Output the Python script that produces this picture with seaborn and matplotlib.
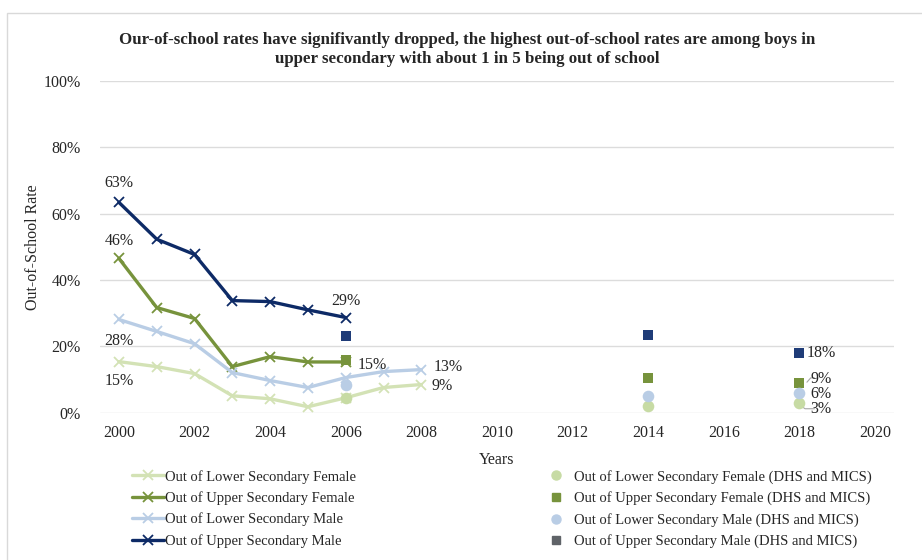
import pandas as pd
import seaborn as sns
import matplotlib.pyplot as plt
from matplotlib.lines import Line2D

# Data
years_line = [2000, 2001, 2002, 2003, 2004, 2005, 2006]
years_line_lower = [2000, 2001, 2002, 2003, 2004, 2005, 2006, 2007, 2008]
lower_female = [15.4, 13.9, 11.8, 5.1, 4.2, 1.8, 4.5, 7.6, 8.5]
upper_female = [46.5, 31.7, 28.4, 13.9, 16.9, 15.3, 15.3]
lower_male = [28.1, 24.5, 20.8, 12.1, 9.7, 7.6, 10.6, 12.4, 13.0]
upper_male = [63.4, 52.3, 47.7, 33.8, 33.5, 31.0, 28.7]

years_dhs = [2006, 2014, 2018]
dhs_lower_female = [4.5, 2.1, 3.0]
dhs_upper_female = [16.0, 10.6, 9.0]
dhs_lower_male = [8.5, 5.1, 6.0]
dhs_upper_male = [23.0, 23.3, 18.0]

line_names = ["Out of Lower Secondary Female", "Out of Upper Secondary Female",
              "Out of Lower Secondary Male", "Out of Upper Secondary Male"]
dhs_names = [n + " (DHS and MICS)" for n in line_names]
line_colors = ["#d3e2b5", "#77933c", "#b9cde5", "#0d2a66"]
dhs_colors = ["#c7dba4", "#77933c", "#b9cde5", "#1f3c78"]
dhs_legend_colors = ["#c7dba4", "#77933c", "#b9cde5", "#5f6368"]

sns.set_style("white")
plt.rcParams['font.family'] = ['Liberation Serif', 'DejaVu Serif']

fig = plt.figure(figsize=(9.22, 5.6), dpi=100)
ax = fig.add_axes([0.1085, 0.263, 0.861, 0.5924])

line_x = [years_line_lower, years_line, years_line_lower, years_line]
line_y = [lower_female, upper_female, lower_male, upper_male]
for x, y, c in zip(line_x, line_y, line_colors):
    df = pd.DataFrame({"year": x, "rate": y})
    sns.lineplot(data=df, x="year", y="rate", color=c, linewidth=2.4,
                 marker="x", markersize=7, markeredgewidth=1.3,
                 markeredgecolor=c, ax=ax, zorder=3)

dhs_y = [dhs_lower_female, dhs_upper_female, dhs_lower_male, dhs_upper_male]
dhs_markers = ["o", "s", "o", "s"]
for y, c, m in zip(dhs_y, dhs_colors, dhs_markers):
    df = pd.DataFrame({"year": years_dhs, "rate": y})
    sns.scatterplot(data=df, x="year", y="rate", color=c, marker=m,
                    s=70 if m == "o" else 50, linewidth=0, ax=ax, zorder=4)

ax.set_xlim(1999.5, 2020.5)
ax.set_ylim(0, 100)
ax.set_xticks(range(2000, 2021, 2))
ax.set_yticks(range(0, 101, 20))
ax.set_yticklabels([f"{v}%" for v in range(0, 101, 20)])
ax.tick_params(labelsize=11.5, length=0)
ax.tick_params(axis="x", pad=9)
ax.tick_params(axis="y", pad=14)
ax.grid(axis="y", color="#dcdcdc", linewidth=1)
for s in ax.spines.values():
    s.set_visible(False)
ax.set_xlabel("Years", fontsize=11.5, labelpad=8)
ax.set_ylabel("Out-of-School Rate", fontsize=11.5, labelpad=2)

fig.suptitle("Our-of-school rates have signifivantly dropped, the highest out-of-school rates are among boys in\n"
             "upper secondary with about 1 in 5 being out of school",
             fontsize=12.2, fontweight="bold", y=0.943, x=0.507, linespacing=1.25)

# data labels
lab = dict(fontsize=11.5, ha="center", va="center")
ax.text(2000, upper_male[0] + 5.8, "63%", **lab)
ax.text(2000, upper_female[0] + 5.2, "46%", **lab)
ax.text(2000, lower_male[0] - 6.4, "28%", **lab)
ax.text(2000, lower_female[0] - 5.8, "15%", **lab)
ax.text(2006, upper_male[-1] + 5, "29%", **lab)
ax.text(2006.7, upper_female[-1] - 0.9, "15%", **lab)
ax.text(2008.7, lower_male[-1] + 0.9, "13%", **lab)
ax.text(2008.55, lower_female[-1] - 0.4, "9%", **lab)
ax.text(2018.18, dhs_upper_male[-1], "18%", fontsize=11.5, ha="left", va="center")
ax.text(2018.58, dhs_upper_female[-1] + 1.3, "9%", **lab)
ax.text(2018.58, dhs_lower_male[-1] - 0.5, "6%", **lab)
ax.text(2018.58, dhs_lower_female[-1] - 2.0, "3%", **lab)
ax.plot([2018.2, 2018.3, 2018.4], [dhs_upper_female[-1] + 0.2, dhs_upper_female[-1] + 1.5, dhs_upper_female[-1] + 1.5],
        color="#a6a6a6", linewidth=0.8)
ax.plot([2018.0, 2018.15, 2018.4], [dhs_lower_female[-1] - 0.6, dhs_lower_female[-1] - 1.8, dhs_lower_female[-1] - 1.8],
        color="#a6a6a6", linewidth=0.8)

# legend: lines in first column, survey points in second
handles = [Line2D([0], [0], color=c, linewidth=2.4, marker="x", markersize=7,
                  markeredgewidth=1.3) for c in line_colors]
handles += [Line2D([0], [0], linestyle="", marker=m, color=c, markersize=6.5 if m == "o" else 6)
            for c, m in zip(dhs_legend_colors, dhs_markers)]
fig.legend(handles, line_names + dhs_names, ncol=2, loc="center left",
           bbox_to_anchor=(0.143, 0.091), frameon=False, fontsize=10.5,
           handlelength=2.2, handletextpad=0.1, labelspacing=0.52,
           columnspacing=12.6, borderpad=0, borderaxespad=0)

# outer frame
fig.patches.append(plt.Rectangle((0.0076, -0.01), 1.5, 0.987, transform=fig.transFigure,
                                 fill=False, edgecolor="#d9d9d9", linewidth=1))

fig.savefig("out.png", dpi=100)
